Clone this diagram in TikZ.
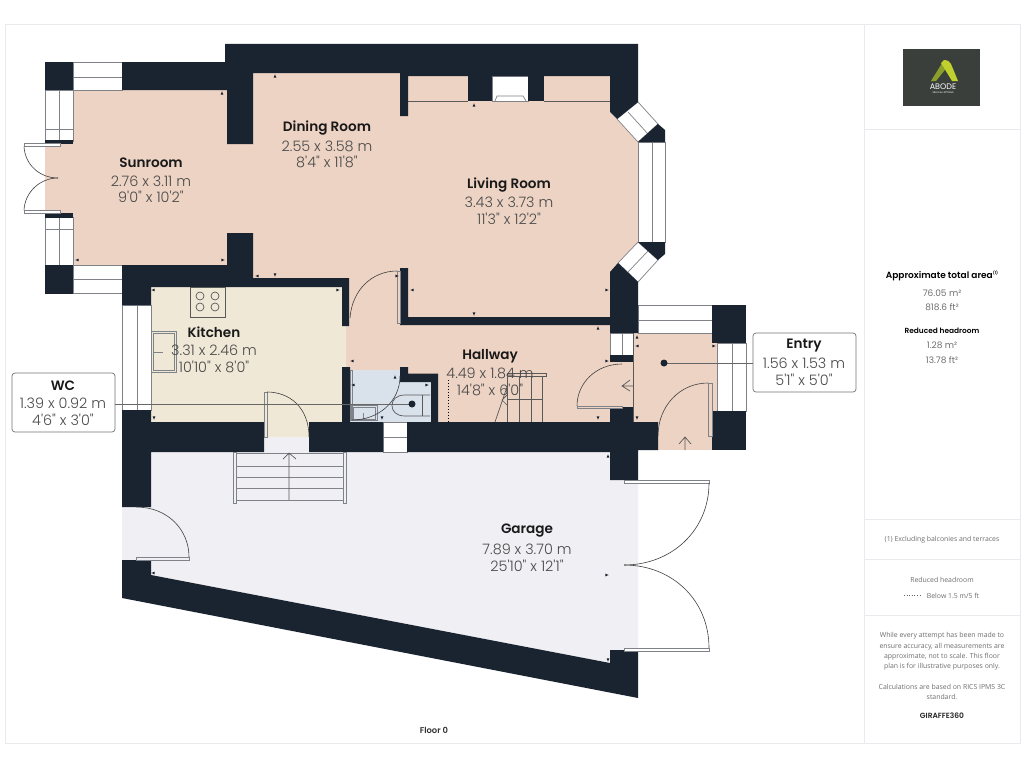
\documentclass[tikz,border=0pt]{standalone}
\usepackage{fontspec}
\setmainfont{Poppins}
\newfontfamily\namefont{Poppins SemiBold}
\newfontfamily\dimfont{Poppins Light}
\newfontfamily\opensans{Open Sans}
\usetikzlibrary{calc}
\definecolor{wallc}{HTML}{1A2330}
\definecolor{pinkc}{HTML}{EDD3C4}
\definecolor{kitc}{HTML}{F0E8D6}
\definecolor{garc}{HTML}{F0EFF4}
\definecolor{wcc}{HTML}{D9E1EB}
\definecolor{linec}{HTML}{7F8288}
\definecolor{framec}{HTML}{E9E9EE}
\definecolor{dimc}{HTML}{4A4A4A}
\definecolor{pantxt}{HTML}{6E6E6E}
\definecolor{logoc}{HTML}{3A3F3C}
\definecolor{logoa}{HTML}{8C9F2A}
\definecolor{logob}{HTML}{BFD02F}
\tikzset{
 wall/.style={fill=wallc,draw=none},
 pane/.style={fill=white,draw=linec,line width=0.7pt},
 thinline/.style={draw=linec,line width=0.7pt},
 swing/.style={draw=black!75,line width=0.6pt},
 leaf/.style={fill=white,draw=linec,line width=0.7pt},
 fix/.style={draw=black!65,line width=0.7pt},
 leader/.style={draw=black!60,line width=0.6pt},
 rname/.style={font=\namefont\fontsize{13.6}{14}\selectfont,text=black!90,inner sep=0pt},
 rdim/.style={font=\dimfont\fontsize{14.4}{15}\selectfont,text=dimc,inner sep=0pt},
 ptxt/.style={font=\opensans\fontsize{6.9}{8}\selectfont,text=pantxt,inner sep=0pt},
 pnum/.style={font=\fontsize{9}{10}\selectfont,text=pantxt,inner sep=0pt},
 phead/.style={font=\namefont\fontsize{9}{10}\selectfont,text=black,inner sep=0pt},
 infobox/.style={draw=black!55,fill=white,rounded corners=3pt,line width=0.7pt,inner sep=0pt},
}
\newcommand\roomlabel[8]{%
 \node[rname] (#1a) at (#3,#4+1) {#2};
 \node[rdim] (#1b) at (#3,#5+0.5) {#6};
 \node[rdim] (#1c) at (#3,#7+0.5) {#8};
}
\begin{document}
\begin{tikzpicture}[x=1pt,y=-1pt]
\useasboundingbox (0,0) rectangle (1024,768);
\fill[white] (0,0) rectangle (1024,768);
% frame
\draw[framec,line width=1pt] (5,25) rectangle (1020,743);
\draw[framec,line width=1pt] (864,25) -- (864,743);
\foreach \yy in {129,519,559,615} \draw[framec,line width=1pt] (864,\yy) -- (1020,\yy);
% floors
\fill[pinkc] (73,90) -- (253,90) -- (253,73) -- (610,73) -- (610,112) -- (638,142) -- (638,242) -- (610,272) -- (610,330) -- (350,330) -- (350,278) -- (73,278) -- cycle;
\fill[pinkc] (45,144) rectangle (75,213);
\fill[pinkc] (346,278) rectangle (634,422);
\fill[pinkc] (633,333) rectangle (717,422);
\fill[pinkc] (658,420) rectangle (712,450);
\fill[kitc] (151,287) -- (342,287) -- (342,326) -- (346,326) -- (346,367) -- (342,367) -- (342,422) -- (151,422) -- cycle;
\fill[kitc] (264,420) rectangle (309,437);
\fill[garc] (264,437) rectangle (309,452);
\fill[garc] (151,452) -- (610,452) -- (610,480) -- (638,480) -- (638,650) -- (610,650) -- (610,663) -- (151,575) -- cycle;
\fill[garc] (122,507) rectangle (152,560);
\fill[wcc] (350,370) -- (400,370) -- (400,382) -- (431,382) -- (431,422) -- (350,422) -- cycle;
% windows
\draw[pane] (73,62) rectangle (122,90); \draw[thinline] (73,77) -- (122,77);
\draw[pane] (73,265) rectangle (122,293.5); \draw[thinline] (73,279) -- (122,279);
\draw[pane] (45,90) rectangle (73,141); \draw[thinline] (59,90) -- (59,141) (45,129) -- (73,129);
\draw[pane] (45,217) rectangle (73,265); \draw[thinline] (59,217) -- (59,265) (45,229) -- (73,229);
\draw[pane] (122,305) rectangle (151,410); \draw[thinline] (137,305) -- (137,410);
\draw[pane] (617,119) -- (638,102) -- (658,124) -- (638,142) -- cycle; \draw[thinline] (628,112) -- (648,134);
\draw[pane] (638,142) rectangle (665,242); \draw[thinline] (652,142) -- (652,242);
\draw[pane] (638,242) -- (658,260) -- (638,282) -- (618,263) -- cycle; \draw[thinline] (648,251) -- (628,272);
\draw[pane] (638,305) rectangle (712,333); \draw[thinline] (638,320) -- (712,320);
\draw[pane] (717,343) rectangle (746,411); \draw[thinline] (732,343) -- (732,411);
\draw[pane] (610,333) rectangle (633,355); \draw[thinline] (622,333) -- (622,355);
\draw[pane] (383,422) rectangle (407,452); \draw[thinline] (383,437) -- (407,437);
% fireplace
\draw[pane] (492,76) rectangle (528,101);
\draw[thinline] (495,101) -- (497,96) -- (523,96) -- (526,101);
% walls
\fill[wall] (225,44) -- (638,44) -- (638,102) -- (617,119) -- (610,112) -- (610,76) -- (408,76) -- (408,116) -- (400,116) -- (400,73) -- (253,73) -- (253,144) -- (227,144) -- (227,90) -- (122,90) -- (122,62) -- (225,62) -- cycle;
\fill[wall] (468,76) rectangle (492,101);
\fill[wall] (528,76) rectangle (544,101);
\fill[wall] (227,233) -- (253,233) -- (253,278) -- (349,278) -- (349,326) -- (342,326) -- (342,287) -- (151,287) -- (151,305) -- (122,305) -- (122,265) -- (227,265) -- cycle;
\fill[wall] (45,62) rectangle (73,90);
\fill[wall] (45,265) rectangle (73,294);
\fill[wall] (45,140) rectangle (73,144);
\fill[wall] (45,213) rectangle (73,218);
\fill[wall] (658,124) -- (665,130) -- (665,142) -- (638,142) -- cycle;
\fill[wall] (638,242) -- (665,242) -- (665,254) -- (658,260) -- cycle;
\fill[wall] (610,272) -- (618,263) -- (638,282) -- (638,333) -- (610,333) -- cycle;
\fill[wall] (400,268) -- (408,268) -- (408,317) -- (610,317) -- (610,325) -- (400,325) -- cycle;
\fill[wall] (342,367) -- (350,367) -- (350,422) -- (383,422) -- (383,452) -- (309,452) -- (309,422) -- (342,422) -- cycle;
\fill[wall] (122,410) -- (151,410) -- (151,422) -- (264,422) -- (264,452) -- (151,452) -- (151,507) -- (122,507) -- cycle;
\fill[wall] (407,422) -- (658,422) -- (658,450) -- (638,450) -- (638,480) -- (610,480) -- (610,452) -- (407,452) -- cycle;
\fill[wall] (610,355) rectangle (633,362);
\fill[wall] (610,407) rectangle (633,422);
\fill[wall] (712,305) rectangle (746,343);
\fill[wall] (712,411) rectangle (746,450);
\fill[wall] (400,367) -- (408,367) -- (408,373.5) -- (438,373.5) -- (438,422) -- (431,422) -- (431,382) -- (400,382) -- cycle;
\fill[wall] (122,560) -- (151,560) -- (151,575) -- (610,663) -- (610,650) -- (638,650) -- (638,698) -- (122,598) -- cycle;
% fine lines
\draw[fix] (408,101) -- (468,101) (544,101) -- (610,101);
\draw[fix] (633,333) -- (633,422);
% hob and sink
\draw[fix,fill=kitc] (190,287) rectangle (225,317);
\foreach \xx/\yy in {200/296,215/296,200/307,215/307} \draw[fix] (\xx,\yy) circle (4);
\draw[thinline,fill=kitc] (151,331) rectangle (176,372);
\draw[thinline] (153,333) rectangle (174,370);
\draw[thinline] (153,352) -- (163,352);
% doors
\draw[leaf] (24,143.5) rectangle (60,146.5);
\draw[leaf] (24,210) rectangle (60,213);
\draw[swing] (24,146.5) .. controls (25,165) and (40,178) .. (58,178);
\draw[swing] (24,210) .. controls (25,192) and (40,178) .. (58,178);
\draw[leaf,fill=kitc] (264,392) rectangle (267,437);
\draw[swing] (267,392) .. controls (290,392) and (309,408) .. (309,437);
\draw[leaf,fill=pinkc] (397,271) rectangle (400,323);
\draw[swing] (397,271) .. controls (372,271) and (352,290) .. (350,318);
\draw[leaf,fill=pinkc] (577,406) rectangle (622,408.5);
\draw[swing] (577,406) .. controls (577,383) and (596,364) .. (622,364);
\draw[leaf,fill=pinkc] (708,383) rectangle (712,436);
\draw[swing] (708,383) .. controls (680,383) and (658,406) .. (658,436);
\draw[leaf,fill=garc] (136,557) rectangle (189,560);
\draw[swing] (189,557) .. controls (189,530) and (168,507) .. (136,507);
\draw[leaf] (624,480) rectangle (709,483);
\draw[leaf] (624,648) rectangle (709,651);
\draw[swing] (709,483) .. controls (709,530) and (672,565) .. (624,565);
\draw[swing] (709,648) .. controls (709,600) and (672,565) .. (624,565);
% door direction arrows
\draw[fix] (633,386) -- (622,386) (630,380) -- (622,386) -- (630,391);
\draw[fix] (685,450) -- (685,437) (679,444) -- (685,437) -- (691,444);
% garage stairs
\draw[leaf,fill=garc] (233,452) rectangle (236,503);
\draw[leaf,fill=garc] (343,452) rectangle (346.5,503);
\foreach \yy in {453,466,477,488,500} \draw[thinline] (236,\yy) -- (343,\yy);
\draw[fix] (289,500) -- (289,453) (283,459) -- (289,453) -- (296,459);
% hallway stairs
\draw[fix] (507,376) -- (507,422) (519,376) -- (519,422) (531,376) -- (531,422) (542,376) -- (542,422) (507,399) -- (542,399);
\draw[fix,fill=pinkc] (507,373.5) rectangle (546,376.5);
\draw[fix] (495,422) -- (507,387) (507,395) -- (502,400) -- (507,405);
\draw[black,line width=0.9pt,dotted] (448,380) -- (448,422);
% WC fittings
\draw[leaf,fill=wcc] (350,370) rectangle (352,420);
\draw[thinline] (351,405) rectangle (377,420.5);
\draw[thinline] (353,407) rectangle (375,419);
\draw[thinline] (363.5,413) -- (363.5,420);
\draw[swing] (400,376) .. controls (400,402) and (378,420) .. (352,420);
\draw[fix] (430,395) -- (405,395) .. controls (396,395) and (392,400) .. (392,405.5) .. controls (392,411) and (396,416) .. (405,416) -- (430,416);
\draw[fix] (422,395) -- (422,416);
% leader lines and boxes
\coordinate (wcdot) at (412,404);
\coordinate (entrydot) at (664,363);
\node[infobox,minimum width=103pt,minimum height=59pt] (wcbox) at (63.5,402.5) {};
\node[infobox,minimum width=103pt,minimum height=59pt] (entrybox) at (804.5,362.5) {};
\draw[leader] (wcbox.east |- wcdot) -- (wcdot);
\draw[leader] (entrybox.west |- entrydot) -- (entrydot);
\fill[wallc] (wcdot) circle (3.5);
\fill[wallc] (entrydot) circle (3.5);
% dimension ticks
\foreach \xx/\yy/\aa in {222/93/0,275/76/0,77/260/90,223/260/-90,257/276/90,275/275/180,153/290/90,338/290/-90,154/418/180,352/361/90,474/105/0,412/290/90,607/290/-90,474/314/180,598/328/0,397/276/-90,395/377/0,353/385/90,427/385/-90,382/418/180,598/418/180,607/361/-90,637/337/0,637/346/90,714/346/-90,637/418/180,608/456/0,153/573/90,608/660/180,607/575/-90}
 \fill[wallc,shift={(\xx,\yy)},rotate=\aa] (-1.4,1.6) -- (1.4,1.6) -- (0,-1.6) -- cycle;
% room labels
\roomlabel{sun}{Sunroom}{151}{162}{181}{2.76 x 3.11 m}{196}{9'0" x 10'2"}
\roomlabel{din}{Dining Room}{327}{127}{146}{2.55 x 3.58 m}{161}{8'4" x 11'8"}
\roomlabel{liv}{Living Room}{509}{184}{202}{3.43 x 3.73 m}{218}{11'3" x 12'2"}
\roomlabel{kit}{Kitchen}{214}{331}{350}{3.31 x 2.46 m}{366}{10'10" x 8'0"}
\roomlabel{hal}{Hallway}{490}{355}{373}{4.49 x 1.84 m}{389}{14'8" x 6'0"}
\roomlabel{gar}{Garage}{527}{530}{549}{7.89 x 3.70 m}{565}{25'10" x 12'1"}
\roomlabel{ent}{Entry}{804}{345}{363}{1.56 x 1.53 m}{379}{5'1" x 5'0"}
\roomlabel{wcl}{WC}{63}{385}{403}{1.39 x 0.92 m}{419}{4'6" x 3'0"}
\node[font=\namefont\fontsize{8.4}{9}\selectfont,text=black!80,inner sep=0pt] (floorlbl) at (434,730) {Floor 0};
% logo
\fill[logoc] (903,49) rectangle (980,106);
\fill[logoa] (944,60) -- (931,81) -- (936,81) -- (948,66) -- cycle;
\fill[logob] (944,60) .. controls (948,60) and (950,62) .. (951,64) -- (958,81) -- (952,81) -- (941,63) -- cycle;
\node[font=\fontsize{8}{8}\selectfont,text=white,inner sep=0pt] (logoa) at (943,87) {ABODE};
\node[font=\fontsize{2.5}{3}\selectfont,text=white,inner sep=0pt] (logob) at (943,93) {SALES \& LETTINGS};
% panel text
\node[phead] (p1) at (942,276) {Approximate total area\raisebox{3.5pt}{\fontsize{4}{4}\selectfont (1)}};
\node[pnum] (p2) at (942,293) {76.05 m²};
\node[pnum] (p3) at (942,307) {818.6 ft²};
\node[phead,font=\namefont\fontsize{7.4}{8}\selectfont] (p4) at (942,331) {Reduced headroom};
\node[pnum] (p5) at (942,345) {1.28 m²};
\node[pnum] (p6) at (942,360) {13.78 ft²};
\node[ptxt] (p7) at (942,540) {(1) Excluding balconies and terraces};
\node[ptxt] (p8) at (942,580) {Reduced headroom};
\draw[black!60,line width=0.6pt,dotted] (904,595) -- (922,595);
\node[ptxt] (p9) at (953,596) {Below 1.5 m/5 ft};
\node[ptxt] (t1) at (942,636) {While every attempt has been made to};
\node[ptxt] (t2) at (942,646.5) {ensure accuracy, all measurements are};
\node[ptxt] (t3) at (942,656.5) {approximate, not to scale. This floor};
\node[ptxt] (t4) at (942,667) {plan is for illustrative purposes only.};
\node[ptxt] (t5) at (942,687) {Calculations are based on RICS IPMS 3C};
\node[ptxt] (t6) at (942,697) {standard.};
\node[phead,font=\namefont\fontsize{7.5}{8}\selectfont,text=black!85] (t7) at (942,716) {GIRAFFE360};
\end{tikzpicture}
\end{document}
